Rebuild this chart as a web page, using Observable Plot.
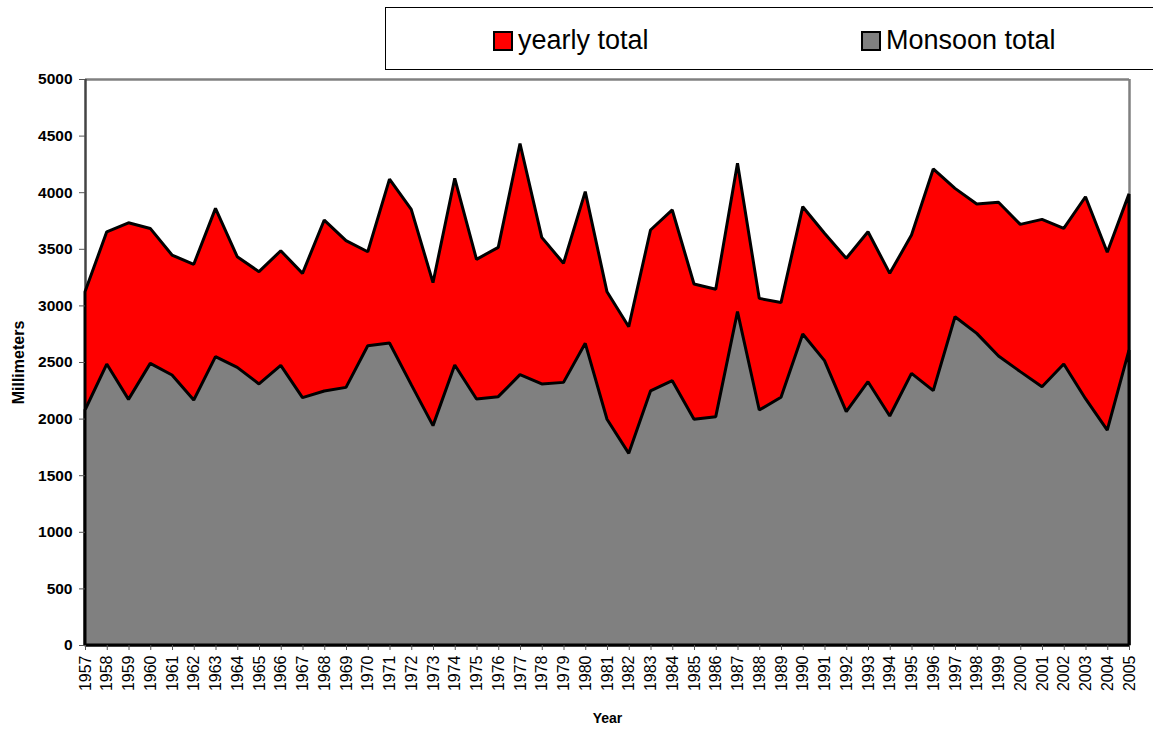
<!DOCTYPE html>
<html><head><meta charset="utf-8">
<script src="https://cdn.jsdelivr.net/npm/d3@7"></script>
<script src="https://cdn.jsdelivr.net/npm/@observablehq/plot@0.6"></script>
<style>
body{margin:0;background:#fff;font-family:"Liberation Sans",Arial,sans-serif;}
#wrap{position:relative;width:1153px;height:730px;overflow:hidden;background:#fff;}
#chart{position:absolute;left:0;top:0;}
#legend{position:absolute;left:385px;top:7px;width:820px;height:63px;border:1.5px solid #000;box-sizing:border-box;background:#fff;}
.item{position:absolute;top:1px;height:63px;display:flex;align-items:center;font-size:27px;color:#000;}
.sw{width:16px;height:16px;border:2px solid #000;margin-right:5px;}
</style></head>
<body>
<div id="wrap">
  <div id="chart"></div>
  <div id="legend">
    <div class="item" style="left:107px"><div class="sw" style="background:#ff0000"></div><span>yearly total</span></div>
    <div class="item" style="left:475px"><div class="sw" style="background:#808080"></div><span>Monsoon total</span></div>
  </div>
</div>
<script>
const years = [1957,1958,1959,1960,1961,1962,1963,1964,1965,1966,1967,1968,1969,1970,1971,1972,1973,1974,1975,1976,1977,1978,1979,1980,1981,1982,1983,1984,1985,1986,1987,1988,1989,1990,1991,1992,1993,1994,1995,1996,1997,1998,1999,2000,2001,2002,2003,2004,2005];
const yearlyTotal = [3120,3650,3730,3680,3445,3363,3857,3430,3298,3483,3283,3754,3572,3474,4115,3848,3201,4123,3407,3513,4430,3601,3372,4005,3120,2812,3666,3843,3189,3142,4255,3062,3025,3872,3637,3416,3651,3283,3622,4205,4034,3896,3911,3716,3760,3681,3960,3470,3985];
const monsoonTotal = [2076,2482,2170,2488,2385,2164,2547,2453,2306,2470,2185,2244,2276,2644,2668,2300,1938,2473,2173,2194,2388,2306,2320,2665,1994,1693,2244,2335,1994,2017,2945,2076,2188,2747,2512,2061,2326,2023,2400,2247,2900,2753,2553,2415,2282,2482,2176,1899,2605];
const yTicks = [0,500,1000,1500,2000,2500,3000,3500,4000,4500,5000];

const rows = years.map((y,i)=>({year:y,total:yearlyTotal[i],monsoon:monsoonTotal[i]}));

const chart = Plot.plot({
  width:1153, height:730,
  marginLeft:85, marginRight:24, marginTop:79, marginBottom:85,
  style:{fontFamily:"'Liberation Sans', Arial, sans-serif", background:"#fff", color:"#000"},
  x:{domain:[1957,2005]},
  y:{domain:[0,5000]},
  marks:[
    Plot.ruleY([5000],{stroke:"#808080",strokeWidth:2.5}),
    Plot.ruleX([2005],{stroke:"#808080",strokeWidth:2.5}),
    Plot.ruleX([1957],{stroke:"#444",strokeWidth:2.5}),
    Plot.areaY(rows,{x:"year",y:"total",fill:"#ff0000",stroke:"#000",strokeWidth:3,strokeLinejoin:"miter"}),
    Plot.areaY(rows,{x:"year",y:"monsoon",fill:"#808080",stroke:"#000",strokeWidth:3,strokeLinejoin:"miter"}),
    Plot.axisY({ticks:yTicks,tickFormat:d=>String(d),tickSize:6,tickPadding:7,fontSize:15.5,fontWeight:"bold",label:null,stroke:"#555"}),
    Plot.axisX({ticks:years,tickFormat:d=>String(d),tickRotate:-90,tickSize:5,tickPadding:5,fontSize:16,label:null,stroke:"#555"}),
    Plot.text(["Millimeters"],{frameAnchor:"left",dx:-67,rotate:-90,textAnchor:"middle",lineAnchor:"middle",fontSize:16,fontWeight:"bold"}),
    Plot.text(["Year"],{frameAnchor:"bottom",dy:73,textAnchor:"middle",lineAnchor:"middle",fontSize:14,fontWeight:"bold"})
  ]
});
document.getElementById("chart").appendChild(chart);
</script>
</body></html>
